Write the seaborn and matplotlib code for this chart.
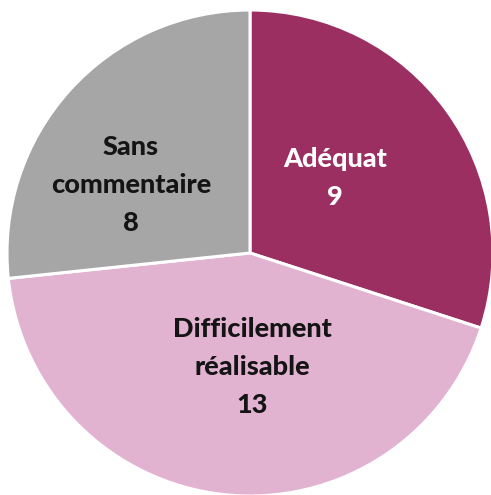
import matplotlib
matplotlib.use("Agg")
import matplotlib.pyplot as plt
import seaborn as sns

categories = ["Adéquat", "Difficilement\nréalisable", "Sans\ncommentaire"]
values = [9, 13, 8]
colors = ["#9B2F62", "#E2B3D1", "#A6A6A6"]
text_colors = ["white", "#141414", "#141414"]

sns.set_theme(style="white")
plt.rcParams['font.family'] = ['Lato', 'DejaVu Sans']

fig = plt.figure(figsize=(4.91, 4.95), dpi=100)
ax = fig.add_axes([0, 0, 1, 1])
wedges, _ = ax.pie(values, colors=colors, startangle=90, counterclock=False,
                   radius=1.0, wedgeprops=dict(edgecolor="white", linewidth=2.2))

label_pos = [(0.35, 0.31), (0.01, -0.47), (-0.49, 0.28)]
for (x, y), cat, v, tc in zip(label_pos, categories, values, text_colors):
    ax.text(x, y, f"{cat}\n{v}", ha="center", va="center", fontsize=19.5,
            fontweight="black", color=tc, linespacing=1.7)

ax.set_xlim(-250/243, (491-250)/243)
ax.set_ylim(-(495-253)/243, 253/243)
ax.set_aspect("equal")
ax.axis("off")
fig.savefig("out.png", dpi=100)
